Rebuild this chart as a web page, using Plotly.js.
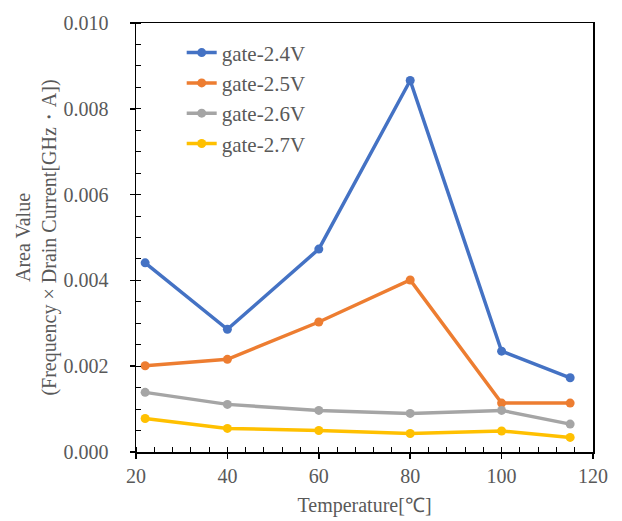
<!DOCTYPE html>
<html>
<head>
<meta charset="utf-8">
<script src="https://cdn.plot.ly/plotly-3.0.1.min.js"></script>
<style>html,body{margin:0;padding:0;background:#fff;}#chart{width:622px;height:521px;}</style>
</head>
<body>
<div id="chart"></div>
<script>
const temperatures = [22, 40, 60, 80, 100, 115];
const seriesNames = ["gate-2.4V", "gate-2.5V", "gate-2.6V", "gate-2.7V"];
const gate24 = [0.00441, 0.00286, 0.00473, 0.00866, 0.00235, 0.00173];
const gate25 = [0.00201, 0.00216, 0.00303, 0.00401, 0.00114, 0.00114];
const gate26 = [0.00139, 0.00111, 0.00097, 0.00090, 0.00097, 0.00065];
const gate27 = [0.00078, 0.00055, 0.00050, 0.00043, 0.00049, 0.00034];
const colors = ["#4472C4", "#ED7D31", "#A5A5A5", "#FFC000"];
const allSeries = [gate24, gate25, gate26, gate27];

const traces = allSeries.map((ys, i) => ({
  x: temperatures, y: ys, name: seriesNames[i], type: "scatter", mode: "lines+markers",
  line: {color: colors[i], width: 3.5},
  marker: {color: colors[i], size: 9}
}));

const fam = "Liberation Serif, serif";
const grey = "#595959";

const layout = {
  width: 622, height: 521,
  margin: {l: 136, r: 29, t: 23, b: 69},
  paper_bgcolor: "#fff", plot_bgcolor: "#fff",
  font: {family: fam, color: grey, size: 20},
  showlegend: true,
  legend: {x: 0.1, y: 0.978, xanchor: "left", yanchor: "top", bgcolor: "rgba(0,0,0,0)",
    font: {family: fam, color: grey, size: 21}},
  xaxis: {
    range: [20, 120], dtick: 20, tick0: 20,
    showgrid: false, zeroline: false,
    showline: true, linecolor: "#000", linewidth: 1.5, mirror: true,
    ticks: "outside", ticklen: 5, tickcolor: "#000", tickwidth: 1.5,
    minor: {dtick: 4, ticks: "inside", ticklen: 5, tickcolor: "#000", tickwidth: 1, showgrid: false},
    tickfont: {family: fam, color: grey, size: 20},
    title: {text: "Temperature[℃]", font: {family: fam, color: grey, size: 20}, standoff: 12}
  },
  yaxis: {
    range: [0, 0.010], dtick: 0.002, tickformat: ".3f",
    showgrid: false, zeroline: false,
    showline: true, linecolor: "#000", linewidth: 1.5, mirror: true,
    ticks: "outside", ticklen: 5, tickcolor: "#000", tickwidth: 1.5,
    ticklabelstandoff: 17,
    minor: {dtick: 0.0005, ticks: "inside", ticklen: 5, tickcolor: "#000", tickwidth: 1, showgrid: false},
    tickfont: {family: fam, color: grey, size: 20},
    title: {text: "Area Value<br>(Frequency × Drain Current[GHz・A])", font: {family: fam, color: grey, size: 20}, standoff: 1}
  }
};

Plotly.newPlot("chart", traces, layout, {displayModeBar: false, staticPlot: true});
</script>
</body>
</html>
